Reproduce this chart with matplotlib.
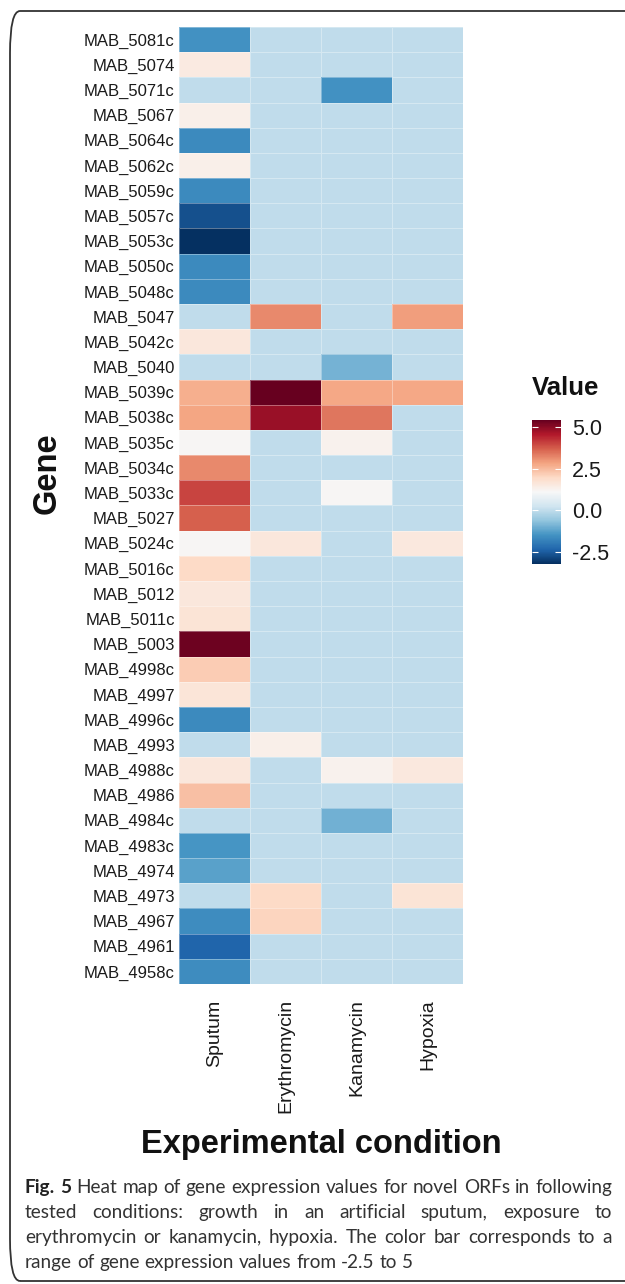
import matplotlib
matplotlib.use("Agg")
import matplotlib.pyplot as plt
import numpy as np
from matplotlib.patches import FancyBboxPatch
from matplotlib.colors import Normalize

genes = ["MAB_5081c", "MAB_5074", "MAB_5071c", "MAB_5067", "MAB_5064c", "MAB_5062c",
         "MAB_5059c", "MAB_5057c", "MAB_5053c", "MAB_5050c", "MAB_5048c", "MAB_5047",
         "MAB_5042c", "MAB_5040", "MAB_5039c", "MAB_5038c", "MAB_5035c", "MAB_5034c",
         "MAB_5033c", "MAB_5027", "MAB_5024c", "MAB_5016c", "MAB_5012", "MAB_5011c",
         "MAB_5003", "MAB_4998c", "MAB_4997", "MAB_4996c", "MAB_4993", "MAB_4988c",
         "MAB_4986", "MAB_4984c", "MAB_4983c", "MAB_4974", "MAB_4973", "MAB_4967",
         "MAB_4961", "MAB_4958c"]
conditions = ["Sputum", "Erythromycin", "Kanamycin", "Hypoxia"]

sputum = [-1.5, 1.5, 0, 1.35, -1.65, 1.35, -1.65, -2.68, -3.2, -1.65, -1.65, 0,
          1.6, 0, 2.65, 2.8, 1.15, 3.16, 4.0, 3.68, 1.15, 1.96, 1.6, 1.7,
          5.3, 2.2, 1.65, -1.65, 0, 1.6, 2.4, 0, -1.44, -1.22, 0, -1.6,
          -2.34, -1.6]
erythromycin = [0, 0, 0, 0, 0, 0, 0, 0, 0, 0, 0, 3.16,
                0, 0, 5.4, 4.8, 0, 0, 0, 0, 1.6, 0, 0, 0,
                0, 0, 0, 0, 1.35, 0, 0, 0, 0, 0, 1.96, 2.05,
                0, 0]
kanamycin = [0, 0, -1.5, 0, 0, 0, 0, 0, 0, 0, 0, 0,
             0, -0.92, 2.75, 3.4, 1.3, 0, 1.15, 0, 0, 0, 0, 0,
             0, 0, 0, 0, 0, 1.3, 0, -0.96, 0, 0, 0, 0,
             0, 0]
hypoxia = [0, 0, 0, 0, 0, 0, 0, 0, 0, 0, 0, 2.9,
           0, 0, 2.75, 0, 0, 0, 0, 0, 1.55, 0, 0, 0,
           0, 0, 0, 0, 0, 1.55, 0, 0, 0, 0, 1.7, 0,
           0, 0]

cbar_ticks = [-2.5, 0.0, 2.5, 5.0]

data = np.column_stack([sputum, erythromycin, kanamycin, hypoxia])

W, H = 625, 1284
fig = plt.figure(figsize=(W / 100, H / 100), dpi=100)
fig.patch.set_facecolor("white")

def fx(px):
    return px / W

def fy(py):
    return 1 - py / H

# heatmap axes
x0, x1, y0, y1 = 179, 463, 27, 984
ax = fig.add_axes([fx(x0), fy(y1), fx(x1 - x0), (y1 - y0) / H])
norm = Normalize(vmin=data.min(), vmax=data.max())
cmap = plt.get_cmap("RdBu_r")
mesh = ax.pcolormesh(np.arange(len(conditions) + 1), np.arange(len(genes) + 1), data,
                     cmap=cmap, norm=norm, edgecolors=(1, 1, 1, 0.35), linewidth=0.6)
ax.set_xlim(0, len(conditions))
ax.set_ylim(len(genes), 0)
ax.set_xticks(np.arange(len(conditions)) + 0.5)
ax.set_xticklabels(conditions, rotation=90, fontsize=14, family="Liberation Sans", color="#1a1a1a")
ax.set_yticks(np.arange(len(genes)) + 0.5)
ax.set_yticklabels(genes, fontsize=12, family="Liberation Sans", color="#1a1a1a")
ax.tick_params(axis="x", length=0, pad=11)
ax.tick_params(axis="y", length=0, pad=3)
for s in ax.spines.values():
    s.set_visible(False)

# axis titles
fig.text(fx(321), fy(1153), "Experimental condition", ha="center", va="baseline",
         fontsize=23.5, weight="bold", family="Liberation Sans", color="#111111")
fig.text(fx(47), fy(473), "Gene", ha="center", va="center", rotation=90,
         fontsize=23.5, weight="bold", family="Liberation Sans", color="#111111")

# colorbar
cax = fig.add_axes([fx(532), fy(564), fx(29), 144 / H])
cb = fig.colorbar(mesh, cax=cax, ticks=cbar_ticks)
cb.outline.set_visible(False)
cb.ax.set_yticklabels([f"{t:.1f}" for t in cbar_ticks])
cax.tick_params(axis="y", left=True, right=True, direction="in", color="white",
                length=4.5, width=0.8, labelsize=15.5, pad=8, labelcolor="#1a1a1a")
for lab in cax.get_yticklabels():
    lab.set_family("Liberation Sans")
fig.text(fx(532), fy(395), "Value", ha="left", va="baseline", fontsize=18.5,
         weight="bold", family="Liberation Sans", color="#111111")

# rounded frame
frame = FancyBboxPatch((fx(10), fy(1281)), fx(660), (1281 - 11) / H,
                       boxstyle="round,pad=0,rounding_size=0.016",
                       transform=fig.transFigure, fill=False, edgecolor="#333333",
                       linewidth=1.3, clip_on=False, mutation_aspect=H / W)
fig.add_artist(frame)

# caption
cap_family = "Lato"
cap_color = "#333333"
lines = [
    [("Fig. 5", "bold"), ("Heat map of gene expression values for novel ORFs in following", "normal")],
    [("tested conditions: growth in an artificial sputum, exposure to", "normal")],
    [("erythromycin or kanamycin, hypoxia. The color bar corresponds to a", "normal")],
    [("range of gene expression values from -2.5 to 5", "normal")],
]
fig.canvas.draw()
renderer = fig.canvas.get_renderer()

def measure(s, weight, size):
    t = fig.text(0, 0, s, fontsize=size, weight=weight, family=cap_family)
    w = t.get_window_extent(renderer).width
    t.remove()
    return w

left_px, right_px = 25, 612
base = 10.0
line1_str_w = measure("Fig. 5", "bold", base) + measure(" " + lines[0][1][0], "normal", base)
cap_size = base * (right_px - left_px) / line1_str_w * 0.995

baselines = [1193, 1218, 1243, 1268]
for i, segs in enumerate(lines):
    words = []
    for s, wt in segs:
        for w in s.split(" "):
            words.append((w, wt))
    widths = [measure(w, wt, cap_size) for w, wt in words]
    space = measure("a a", "normal", cap_size) - measure("aa", "normal", cap_size)
    if i < 3 and len(words) > 1:
        gap = (right_px - left_px - sum(widths)) / (len(words) - 1)
    else:
        gap = space
    x = left_px
    for (w, wt), wd in zip(words, widths):
        fig.text(fx(x), fy(baselines[i]), w, fontsize=cap_size, weight=wt,
                 family=cap_family, color=cap_color if wt == "normal" else "#222222",
                 ha="left", va="baseline")
        x += wd + gap

fig.savefig("out.png", dpi=100)
